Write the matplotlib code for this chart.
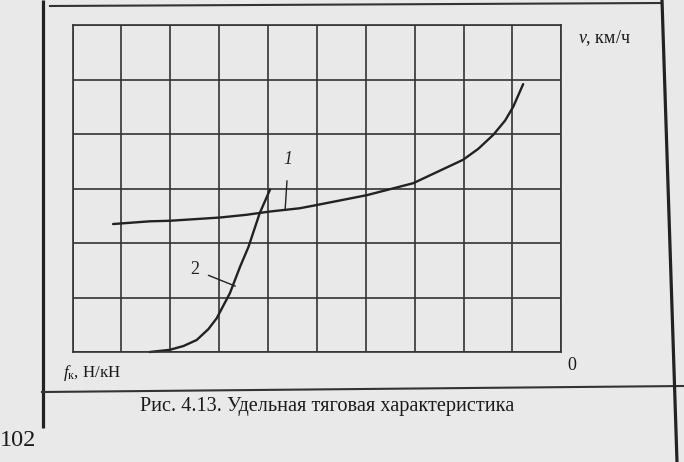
import matplotlib
matplotlib.use("Agg")
import matplotlib.pyplot as plt

plt.rcParams["font.family"] = ["Liberation Serif", "DejaVu Serif"]
plt.rcParams["mathtext.fontset"] = "custom"
plt.rcParams["mathtext.rm"] = "Liberation Serif"
plt.rcParams["mathtext.it"] = "Liberation Serif:italic"

# curve 1 (f in grid divisions from the origin at the right, v in grid divisions)
f1 = [9.17, 8.42, 8.01, 6.98, 6.44, 5.96, 5.35, 5.00, 3.98, 3.03, 2.01, 1.70, 1.39, 1.15, 0.98, 0.78]
v1 = [2.35, 2.40, 2.41, 2.47, 2.52, 2.58, 2.64, 2.70, 2.88, 3.10, 3.53, 3.73, 3.99, 4.25, 4.51, 4.92]

# curve 2
f2 = [8.42, 8.01, 7.73, 7.46, 7.22, 7.05, 6.78, 6.57, 6.40, 6.17, 5.96]
v2 = [0.00, 0.04, 0.11, 0.22, 0.42, 0.62, 1.08, 1.57, 1.93, 2.55, 2.98]

n_cols = 10
n_rows = 6

caption = "Рис. 4.13. Удельная тяговая характеристика"
page_no = "102"

W, H = 684, 462
fig = plt.figure(figsize=(W / 100, H / 100), dpi=100, facecolor="#e9e9e9")

# page frame in pixel coordinates
bg = fig.add_axes([0, 0, 1, 1], zorder=0)
bg.set_xlim(0, W)
bg.set_ylim(H, 0)
bg.axis("off")

ink = "#222222"
bg.plot([42.5, 42.5], [0, 428], color=ink, lw=2.3, solid_capstyle="butt")
bg.plot([50, 662], [6, 3], color="#333333", lw=1.5)
bg.plot([42, W], [392, 386], color="#333333", lw=1.5)
bg.plot([662, 677], [0, H], color=ink, lw=2.3)

bg.text(327, 406, caption, fontsize=14.6, color="#1a1a1a", ha="center", va="center")
bg.text(0, 440, page_no, fontsize=17.5, color="#1a1a1a", ha="left", va="center")

# chart
ax = fig.add_axes([72.5 / W, (H - 352) / H, 488.8 / W, 326.7 / H], zorder=1)
ax.patch.set_alpha(0)
ax.set_xlim(n_cols, 0)
ax.set_ylim(0, n_rows)
ax.set_xticks(range(n_cols + 1))
ax.set_yticks(range(n_rows + 1))
ax.tick_params(length=0, labelbottom=False, labelleft=False)
ax.grid(True, color="#333333", lw=1.2)
for s in ax.spines.values():
    s.set_color("#333333")
    s.set_linewidth(1.2)

ax.plot(f1, v1, color=ink, lw=1.7, solid_capstyle="round", solid_joinstyle="round", clip_on=False)
ax.plot(f2, v2, color=ink, lw=1.7, solid_capstyle="round", solid_joinstyle="round", clip_on=False)

ax.annotate("1", xy=(5.65, 2.61), xytext=(5.585, 3.53), fontsize=13, style="italic",
            ha="center", va="center", color=ink,
            arrowprops=dict(arrowstyle="-", color=ink, lw=1.0, shrinkA=7, shrinkB=0))
ax.annotate("2", xy=(6.67, 1.21), xytext=(7.50, 1.51), fontsize=13,
            ha="center", va="center", color=ink,
            arrowprops=dict(arrowstyle="-", color=ink, lw=1.0, shrinkA=5, shrinkB=0))

ax.text(1.034, 0.961, "$\\mathit{v}$, км/ч", transform=ax.transAxes, fontsize=13,
        ha="left", va="center", color="#1a1a1a")
ax.text(-0.019, -0.064, "$\\mathit{f}_{\\mathrm{к}}$, Н/кН", transform=ax.transAxes,
        fontsize=12.2, ha="left", va="center", color="#1a1a1a")
ax.text(1.022, -0.04, "0", transform=ax.transAxes, fontsize=13,
        ha="center", va="center", color="#1a1a1a")

fig.savefig("out.png", dpi=100, facecolor=fig.get_facecolor())
